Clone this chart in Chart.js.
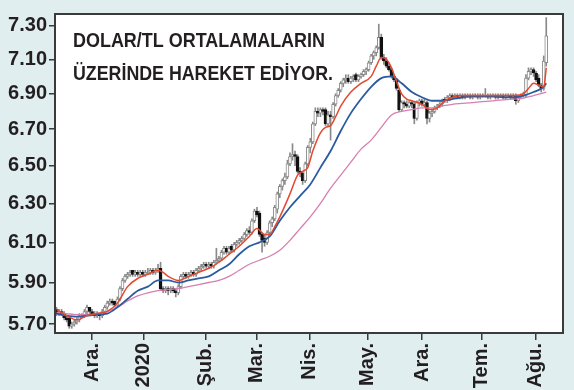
<!DOCTYPE html>
<html>
<head>
<meta charset="utf-8">
<script src="https://cdn.jsdelivr.net/npm/chart.js@4.4.1/dist/chart.umd.min.js"></script>
<style>
html, body { margin: 0; padding: 0; background: #e0eef0; }
#wrap { width: 574px; height: 390px; }
</style>
</head>
<body>
<div id="wrap"><canvas id="myChart" width="574" height="390"></canvas></div>
<script>
// daily candles, one per trading day (mid Nov 2019 -> 7 Aug 2020)
let opn = [
  5.77,5.75,5.76,5.75,5.73,5.73,5.69,5.70,5.71,5.72,
  5.74,5.74,5.76,5.78,5.76,5.75,5.74,5.75,5.74,5.76,
  5.78,5.80,5.81,5.81,5.79,5.82,5.87,5.91,5.93,5.94,
  5.96,5.94,5.95,5.94,5.95,5.94,5.95,5.95,5.96,5.95,
  5.96,5.97,5.87,5.86,5.87,5.86,5.87,5.86,5.85,5.88,
  5.93,5.94,5.93,5.94,5.95,5.94,5.96,5.97,5.98,5.99,
  5.98,5.99,5.98,6.00,6.01,6.02,6.05,6.07,6.05,6.08,
  6.06,6.09,6.10,6.11,6.12,6.14,6.16,6.15,6.21,6.26,
  6.25,6.14,6.12,6.10,6.15,6.20,6.22,6.27,6.35,6.39,
  6.42,6.44,6.51,6.55,6.56,6.55,6.47,6.46,6.42,6.51,
  6.60,6.63,6.73,6.80,6.79,6.81,6.81,6.73,6.78,6.77,
  6.84,6.89,6.92,6.96,6.98,6.99,6.97,6.99,7.01,6.98,
  7.00,7.01,7.03,7.04,7.08,7.12,7.14,7.17,7.23,7.11,
  7.09,7.06,7.04,7.00,6.98,6.92,6.81,6.85,6.84,6.83,
  6.85,6.84,6.76,6.85,6.86,6.84,6.85,6.76,6.79,6.80,
  6.82,6.83,6.84,6.87,6.86,6.88,6.89,6.88,6.89,6.88,
  6.89,6.88,6.89,6.89,6.88,6.89,6.89,6.88,6.89,6.89,
  6.89,6.88,6.89,6.89,6.88,6.89,6.89,6.88,6.89,6.89,
  6.88,6.89,6.86,6.88,6.89,6.89,6.99,7.03,7.04,7.02,
  6.99,6.95,6.93,7.08
];
let hi = [
  5.78,5.77,5.77,5.76,5.74,5.73,5.71,5.72,5.73,5.75,
  5.75,5.77,5.79,5.78,5.77,5.76,5.76,5.75,5.77,5.79,
  5.81,5.82,5.82,5.81,5.83,5.88,5.92,5.94,5.95,5.96,
  5.96,5.96,5.96,5.96,5.96,5.96,5.97,5.97,5.97,5.97,
  5.99,6.00,5.88,5.88,5.88,5.88,5.88,5.87,5.89,5.94,
  5.95,5.95,5.95,5.96,5.96,5.97,5.98,5.99,6.00,6.00,
  6.00,6.00,6.01,6.07,6.03,6.06,6.08,6.08,6.08,6.09,
  6.10,6.11,6.12,6.13,6.15,6.17,6.18,6.22,6.27,6.28,
  6.26,6.15,6.14,6.16,6.21,6.23,6.29,6.36,6.40,6.43,
  6.46,6.53,6.57,6.62,6.58,6.56,6.49,6.47,6.52,6.61,
  6.65,6.74,6.82,6.82,6.82,6.82,6.82,6.80,6.80,6.85,
  6.90,6.93,6.97,6.99,7.01,7.01,7.00,7.01,7.02,7.01,
  7.02,7.04,7.05,7.09,7.13,7.15,7.18,7.31,7.25,7.13,
  7.11,7.08,7.05,7.01,6.99,6.93,6.86,6.86,6.86,6.86,
  6.86,6.85,6.86,6.87,6.87,6.87,6.86,6.80,6.81,6.83,
  6.84,6.85,6.87,6.88,6.89,6.90,6.90,6.90,6.90,6.90,
  6.90,6.90,6.90,6.90,6.90,6.90,6.90,6.90,6.90,6.93,
  6.90,6.90,6.90,6.90,6.90,6.90,6.90,6.90,6.90,6.90,
  6.90,6.90,6.89,6.90,6.91,7.01,7.05,7.05,7.05,7.03,
  7.01,6.96,7.12,7.35
];
let lo = [
  5.74,5.74,5.74,5.72,5.71,5.68,5.68,5.69,5.70,5.71,
  5.73,5.73,5.75,5.75,5.74,5.73,5.73,5.72,5.73,5.75,
  5.77,5.79,5.79,5.78,5.78,5.81,5.86,5.90,5.92,5.93,
  5.93,5.93,5.93,5.93,5.93,5.93,5.94,5.94,5.94,5.94,
  5.95,5.86,5.85,5.85,5.84,5.85,5.85,5.83,5.84,5.87,
  5.92,5.92,5.92,5.93,5.93,5.93,5.95,5.96,5.97,5.97,
  5.97,5.97,5.97,5.99,6.00,6.01,6.04,6.04,6.04,6.05,
  6.05,6.08,6.09,6.10,6.11,6.13,6.14,6.14,6.20,6.23,
  6.13,6.05,6.08,6.09,6.14,6.18,6.21,6.25,6.33,6.37,
  6.40,6.43,6.50,6.53,6.50,6.46,6.44,6.40,6.41,6.50,
  6.57,6.62,6.72,6.77,6.77,6.78,6.72,6.72,6.64,6.76,
  6.83,6.88,6.91,6.94,6.96,6.96,6.96,6.97,6.97,6.97,
  6.99,7.00,7.01,7.03,7.07,7.10,7.12,7.16,7.10,7.07,
  7.05,7.03,6.99,6.97,6.92,6.80,6.80,6.82,6.82,6.82,
  6.82,6.73,6.75,6.83,6.83,6.83,6.73,6.74,6.77,6.79,
  6.81,6.82,6.83,6.85,6.85,6.86,6.87,6.87,6.87,6.87,
  6.87,6.87,6.88,6.87,6.87,6.88,6.87,6.87,6.88,6.88,
  6.87,6.87,6.88,6.87,6.87,6.88,6.87,6.87,6.88,6.87,
  6.87,6.84,6.85,6.87,6.88,6.88,6.98,7.01,7.00,6.97,
  6.94,6.91,6.92,7.06
];
let cls = [
  5.75,5.76,5.75,5.73,5.72,5.69,5.70,5.71,5.72,5.74,
  5.74,5.76,5.78,5.76,5.75,5.74,5.75,5.74,5.76,5.78,
  5.80,5.81,5.80,5.79,5.82,5.87,5.91,5.93,5.94,5.95,
  5.94,5.95,5.94,5.95,5.94,5.95,5.95,5.96,5.95,5.96,
  5.97,5.87,5.86,5.87,5.86,5.87,5.86,5.85,5.88,5.93,
  5.94,5.93,5.94,5.95,5.94,5.96,5.97,5.98,5.99,5.98,
  5.99,5.98,6.00,6.01,6.02,6.05,6.07,6.05,6.07,6.06,
  6.09,6.10,6.11,6.12,6.14,6.16,6.15,6.21,6.26,6.24,
  6.14,6.11,6.10,6.15,6.20,6.22,6.28,6.35,6.39,6.42,
  6.44,6.51,6.55,6.56,6.55,6.47,6.46,6.42,6.51,6.60,
  6.63,6.73,6.80,6.79,6.81,6.80,6.73,6.78,6.77,6.84,
  6.89,6.92,6.96,6.98,6.99,6.97,6.99,7.00,6.98,7.00,
  7.01,7.03,7.04,7.08,7.12,7.14,7.17,7.23,7.11,7.09,
  7.06,7.04,7.00,6.98,6.93,6.81,6.85,6.84,6.83,6.85,
  6.84,6.76,6.85,6.86,6.84,6.85,6.76,6.79,6.80,6.82,
  6.83,6.84,6.86,6.86,6.88,6.89,6.88,6.89,6.88,6.89,
  6.88,6.89,6.89,6.88,6.89,6.89,6.88,6.89,6.89,6.89,
  6.88,6.89,6.89,6.88,6.89,6.89,6.88,6.89,6.89,6.88,
  6.89,6.86,6.88,6.89,6.90,6.99,7.03,7.04,7.02,6.98,
  6.95,6.93,7.09,7.24
];

// moving averages
let redIdx = [0,4,8,12,16,20,24,28,32,36,40,42,44,48,52,56,60,64,68,72,76,79,82,84,86,88,92,95,97,99,101,104,106,108,110,112,116,120,124,126,128,130,132,134,136,138,140,144,147,150,153,156,160,170,180,184,186,188,190,192,193];
let redMA = [5.77,5.74,5.72,5.74,5.75,5.76,5.80,5.88,5.92,5.94,5.96,5.95,5.93,5.91,5.93,5.95,5.97,6.00,6.04,6.08,6.13,6.17,6.14,6.14,6.18,6.23,6.35,6.45,6.47,6.49,6.58,6.68,6.71,6.72,6.77,6.83,6.91,6.96,7.00,7.06,7.11,7.10,7.05,6.97,6.90,6.87,6.86,6.84,6.81,6.82,6.86,6.88,6.89,6.89,6.89,6.90,6.93,6.96,6.95,6.94,7.05];

let maIdx = [0,4,8,12,16,20,24,28,32,36,40,44,48,52,56,60,64,68,72,76,80,84,88,92,96,100,104,108,112,116,120,124,128,132,136,140,144,148,152,156,160,164,168,172,176,180,184,188,192,193];
let blueMA = [5.75,5.74,5.735,5.74,5.745,5.75,5.78,5.82,5.86,5.88,5.91,5.91,5.90,5.91,5.92,5.93,5.96,5.99,6.04,6.08,6.10,6.13,6.21,6.28,6.34,6.40,6.49,6.58,6.69,6.79,6.87,6.94,6.99,7.00,6.96,6.91,6.88,6.86,6.86,6.87,6.88,6.885,6.885,6.885,6.88,6.88,6.89,6.91,6.94,6.96];
let pinkMA = [5.755,5.75,5.745,5.745,5.75,5.76,5.78,5.81,5.835,5.85,5.86,5.865,5.87,5.88,5.89,5.90,5.91,5.93,5.96,5.99,6.01,6.03,6.06,6.11,6.17,6.23,6.30,6.38,6.45,6.52,6.59,6.64,6.71,6.78,6.80,6.81,6.82,6.82,6.83,6.84,6.845,6.85,6.855,6.86,6.865,6.87,6.875,6.89,6.905,6.91];

let yTicks = [5.7, 5.9, 6.1, 6.3, 6.5, 6.7, 6.9, 7.1, 7.3];
let monthIdx = [14, 34.4, 58.8, 78.9, 99.7, 122.5, 144.1, 167.5, 188.9];
let monthLabels = ["Ara.", "2020", "Şub.", "Mar.", "Nis.", "May.", "Ara.", "Tem.", "Ağu."];

let titleLines = ["DOLAR/TL ORTALAMALARIN", "ÜZERİNDE HAREKET EDİYOR."];

let ink = "#231f20";

let framePlugin = {
    id: "frame",
    beforeDraw(chart) {
        let ctx = chart.ctx;
        let a = chart.chartArea;
        ctx.save();
        ctx.fillStyle = "#e0eef0";
        ctx.fillRect(0, 0, chart.width, chart.height);
        ctx.fillStyle = "#ffffff";
        ctx.fillRect(a.left, a.top, a.right - a.left, a.bottom - a.top);
        ctx.restore();
    },
    afterDraw(chart) {
        let ctx = chart.ctx;
        let a = chart.chartArea;
        ctx.save();
        ctx.strokeStyle = "#3a3a3a";
        ctx.lineWidth = 2;
        ctx.strokeRect(a.left, a.top, a.right - a.left, a.bottom - a.top);
        ctx.fillStyle = ink;
        ctx.font = "bold 21px 'Liberation Sans', Arial, sans-serif";
        ctx.textBaseline = "alphabetic";
        ctx.fillText(titleLines[0], 73, 47, 252);
        ctx.fillText(titleLines[1], 73, 80, 260);
        ctx.restore();
    }
};

let wickData = hi.map((h, i) => ({x: i, y: [lo[i], h]}));
let bodyData = opn.map((o, i) => ({x: i, y: [o, cls[i]]}));

let myChart = new Chart(document.getElementById("myChart"), {
    type: "bar",
    data: {
        datasets: [{
            type: "line",
            data: redIdx.map((x, i) => ({x: x, y: redMA[i]})),
            borderColor: "#e2492f",
            borderWidth: 1.5,
            pointRadius: 0,
            cubicInterpolationMode: "monotone",
            order: 1
        }, {
            type: "line",
            data: maIdx.map((x, i) => ({x: x, y: blueMA[i]})),
            borderColor: "#2b5b9e",
            borderWidth: 1.8,
            pointRadius: 0,
            cubicInterpolationMode: "monotone",
            order: 2
        }, {
            type: "line",
            data: maIdx.map((x, i) => ({x: x, y: pinkMA[i]})),
            borderColor: "#d77fb0",
            borderWidth: 1.3,
            pointRadius: 0,
            cubicInterpolationMode: "monotone",
            order: 3
        }, {
            data: bodyData,
            grouped: false,
            barThickness: 3,
            borderWidth: 1,
            borderSkipped: false,
            backgroundColor: (c) => cls[c.dataIndex] < opn[c.dataIndex] ? "#111111" : "#ffffff",
            borderColor: (c) => cls[c.dataIndex] < opn[c.dataIndex] ? "#111111" : "#8a8a8a",
            order: 4
        }, {
            data: wickData,
            grouped: false,
            barThickness: 1,
            backgroundColor: "#8a8a8a",
            order: 5
        }]
    },
    options: {
        responsive: false,
        animation: false,
        layout: { padding: { top: 9, right: 11, left: 0, bottom: 0 } },
        plugins: { legend: { display: false }, tooltip: { enabled: false } },
        scales: {
            x: {
                type: "linear",
                offset: false,
                min: -0.6,
                max: 199.6,
                afterBuildTicks: (s) => { s.ticks = monthIdx.map(v => ({value: v})); },
                afterFit: (s) => { s.height = 57; },
                ticks: {
                    autoSkip: false,
                    minRotation: 90,
                    maxRotation: 90,
                    padding: 3,
                    color: ink,
                    font: { family: "'Liberation Sans', Arial, sans-serif", size: 20, weight: "bold" },
                    callback: (v) => monthLabels[monthIdx.indexOf(v)]
                },
                grid: { offset: false, drawOnChartArea: false, tickLength: 7, color: "#3a3a3a", lineWidth: 1.5 },
                border: { display: false }
            },
            y: {
                type: "logarithmic",
                min: 5.658,
                max: 7.372,
                afterBuildTicks: (s) => { s.ticks = yTicks.map(v => ({value: v})); },
                afterFit: (s) => { s.width = 55; },
                ticks: {
                    padding: 2,
                    color: ink,
                    font: { family: "'Liberation Sans', Arial, sans-serif", size: 20, weight: "bold" },
                    callback: (v) => Number(v).toFixed(2)
                },
                grid: { drawOnChartArea: false, tickLength: 6, color: "#3a3a3a", lineWidth: 1.5 },
                border: { display: false }
            }
        }
    },
    plugins: [framePlugin]
});
</script>
</body>
</html>
